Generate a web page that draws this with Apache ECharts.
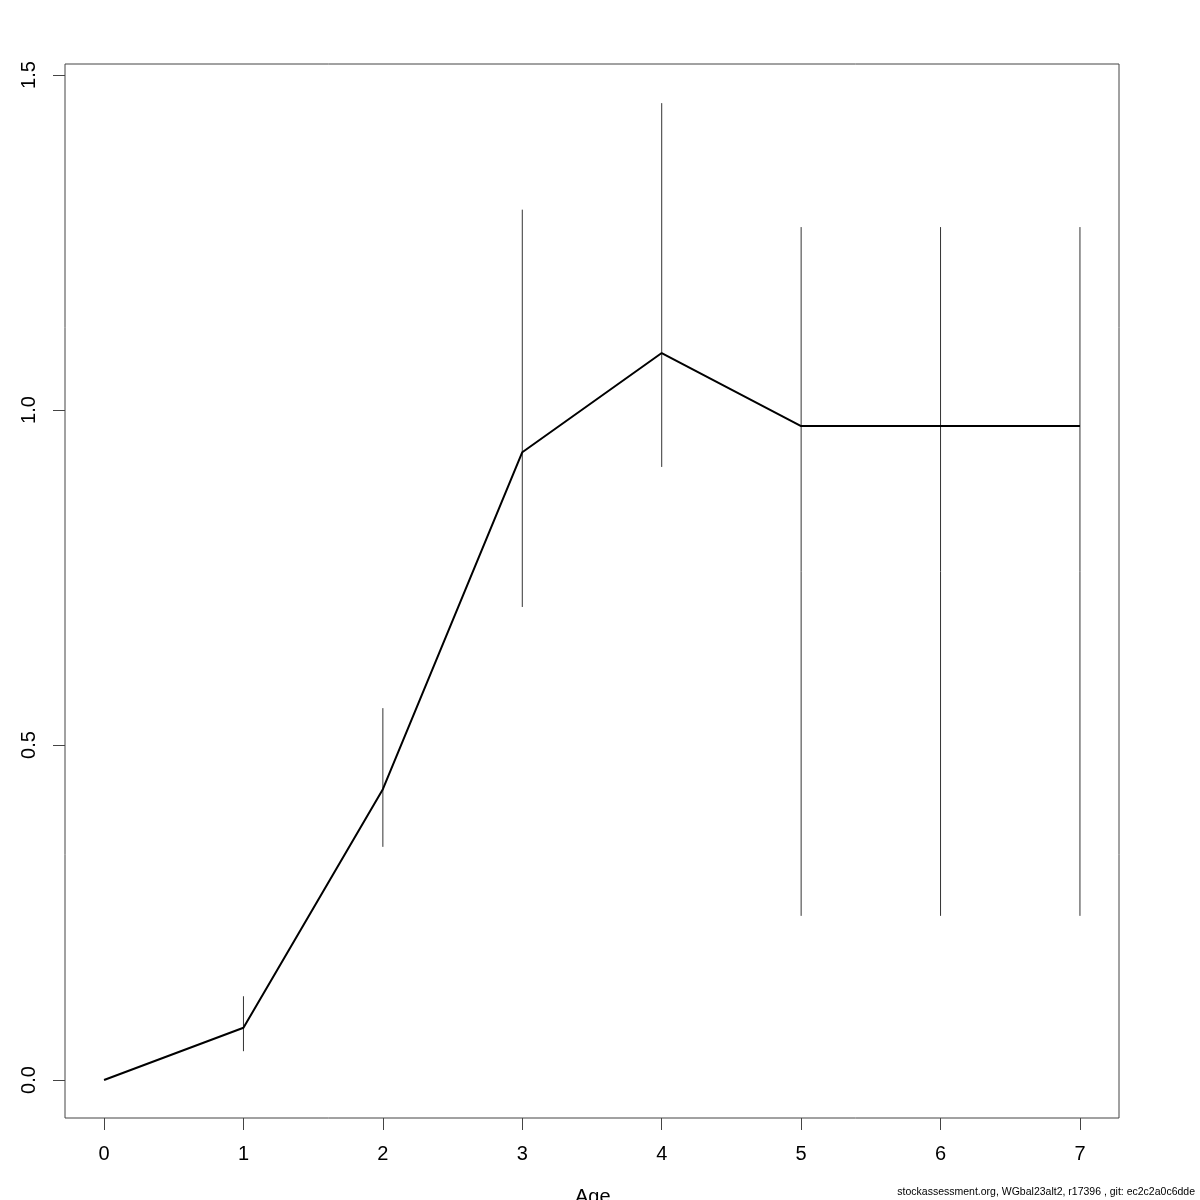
<!DOCTYPE html>
<html><head><meta charset="utf-8">
<script src="https://cdn.jsdelivr.net/npm/echarts@6/dist/echarts.min.js"></script>
<style>html,body{margin:0;padding:0;background:#fff}#c{width:1200px;height:1200px}</style>
</head><body><div id="c"></div>
<script>
var ages = [0, 1, 2, 3, 4, 5, 6, 7];
var estimate = [0, 0.078, 0.434, 0.937, 1.085, 0.976, 0.976, 0.976];
var lower = [null, 0.043, 0.348, 0.706, 0.915, 0.245, 0.245, 0.245];
var upper = [null, 0.125, 0.555, 1.299, 1.458, 1.273, 1.273, 1.273];
var xTicks = [0, 1, 2, 3, 4, 5, 6, 7];
var yTicks = [0, 0.5, 1.0, 1.5];
var footer = 'stockassessment.org, WGbal23alt2, r17396 , git: ec2c2a0c6dde';

var lineData = ages.map(function (a, i) { return [a, estimate[i]]; });
var barData = [];
ages.forEach(function (a, i) { if (lower[i] != null) barData.push([a, lower[i], upper[i]]); });

var chart = echarts.init(document.getElementById('c'));
var font = 'Liberation Sans, Arial, sans-serif';
chart.setOption({
  animation: false,
  backgroundColor: '#fff',
  grid: { left: 65, right: 81, top: 64, bottom: 82, show: true, borderColor: '#444', borderWidth: 1, backgroundColor: 'transparent' },
  xAxis: {
    type: 'value', min: -0.28, max: 7.28,
    axisLine: { show: false, onZero: false },
    splitLine: { show: false },
    axisTick: { show: true, length: 12, inside: false, customValues: xTicks, lineStyle: { color: '#444' } },
    axisLabel: { customValues: xTicks, fontFamily: font, fontSize: 20, color: '#000', margin: 26, formatter: function (v) { return String(v); } }
  },
  yAxis: {
    type: 'value', min: -0.0567, max: 1.5164,
    axisLine: { show: false, onZero: false },
    splitLine: { show: false },
    axisTick: { show: true, length: 12, customValues: yTicks, lineStyle: { color: '#444' } },
    axisLabel: { customValues: yTicks, rotate: 90, fontFamily: font, fontSize: 20, color: '#000', margin: 26,
      formatter: function (v) { return v.toFixed(1); } }
  },
  graphic: [
    { type: 'text', left: 575, top: 1187, style: { text: 'Age', font: '20px Liberation Sans', fill: '#000' } },
    { type: 'text', right: 5, top: 1187, style: { text: footer, font: '10.5px Liberation Sans', fill: '#000' } }
  ],
  series: [
    {
      type: 'line', data: lineData, symbol: 'none',
      lineStyle: { color: '#000', width: 2 }
    },
    {
      type: 'custom', data: barData,
      renderItem: function (params, api) {
        var p1 = api.coord([api.value(0), api.value(1)]);
        var p2 = api.coord([api.value(0), api.value(2)]);
        return { type: 'line', shape: { x1: p1[0], y1: p1[1], x2: p2[0], y2: p2[1] }, style: { stroke: '#333', lineWidth: 1 } };
      }
    }
  ]
});
</script></body></html>
